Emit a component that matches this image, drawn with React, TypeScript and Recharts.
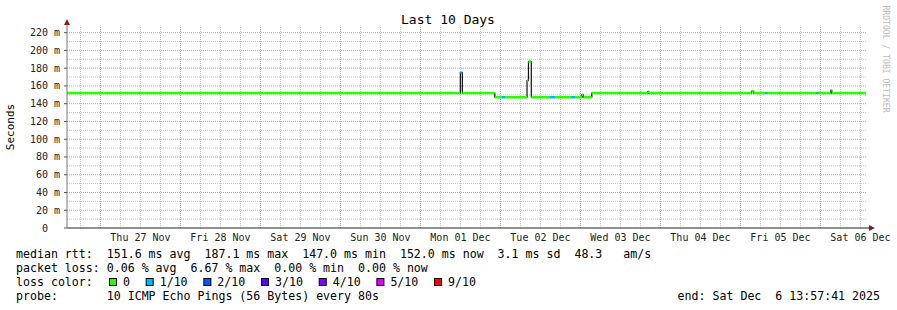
import { LineChart, Line, XAxis, YAxis, ReferenceLine } from "recharts";

// time axis = hours since Wed 26 Nov 00:00 (graph ends Sat Dec 6 13:57:41)
const startHour = 13.96;
const endHour = 253.66;

// median rtt as steps: segment i runs stepHours[i] -> stepHours[i+1]
const stepHours = [
  13.96, 131.96, 132.56, 142.3, 144.46, 145.36, 151.96, 152.4, 153.25, 158.86,
  160.36, 165.16, 166.36, 168.46, 168.9, 171.4, 188.2, 188.5, 219.3, 220.0,
  223.6, 224.0, 238.8, 239.3, 243.1, 243.4, 253.66,
];
const medianMs = [
  152, 175, 152, 147.3, 147.3, 147.3, 166, 187.5, 147.3, 147.3,
  147.3, 147.3, 147.3, 150, 147.3, 152, 153.5, 152, 154, 152,
  152, 152, 152, 152, 155, 152,
];
const lossTenths = [
  0, 1, 0, 0, 1, 0, 0, 0, 0, 1,
  0, 1, 0, 0, 0, 0, 0, 0, 0, 0,
  1, 0, 1, 0, 0, 0,
];

const lossLevels = [0, 1, 2, 3, 4, 5, 9];
const lossColors = ["#26ff00", "#00b8ff", "#0059ff", "#5e00ff", "#7e00ff", "#dd00ff", "#ff0000"];
const lossLabels = ["0", "1/10", "2/10", "3/10", "4/10", "5/10", "9/10"];

const dayNoons = [36, 60, 84, 108, 132, 156, 180, 204, 228, 252];
const dayLabels = [
  "Thu 27 Nov", "Fri 28 Nov", "Sat 29 Nov", "Sun 30 Nov", "Mon 01 Dec",
  "Tue 02 Dec", "Wed 03 Dec", "Thu 04 Dec", "Fri 05 Dec", "Sat 06 Dec",
];
const midnights = [24, 48, 72, 96, 120, 144, 168, 192, 216, 240];
const sixHours = [18, 30, 36, 42, 54, 60, 66, 78, 84, 90, 102, 108, 114, 126, 132, 138, 150, 156, 162, 174, 180, 186, 198, 204, 210, 222, 228, 234, 246, 252];
const yMajor = [0, 20, 40, 60, 80, 100, 120, 140, 160, 180, 200, 220];
const yMinor = [10, 30, 50, 70, 90, 110, 130, 150, 170, 190, 210];

const statRows = [
  "median rtt:  151.6 ms avg  187.1 ms max  147.0 ms min  152.0 ms now  3.1 ms sd  48.3   am/s",
  "packet loss: 0.06 % avg  6.67 % max  0.00 % min  0.00 % now",
];
const probeRow = "probe:       10 ICMP Echo Pings (56 Bytes) every 80s";
const endRow = "end: Sat Dec  6 13:57:41 2025";

const mono = "'DejaVu Sans Mono', monospace";

const stepData = stepHours.map((t, i) => ({ t, med: medianMs[Math.min(i, medianMs.length - 1)] }));

// one broken polyline per loss level: horizontal pieces only
const lossData = lossLevels.map((lvl) => {
  const key = "l" + lvl;
  const pts: Record<string, number | null>[] = [];
  medianMs.forEach((v, i) => {
    if (lossTenths[i] !== lvl) return;
    pts.push({ t: stepHours[i], [key]: v }, { t: stepHours[i + 1], [key]: v }, { t: stepHours[i + 1], [key]: null });
  });
  return pts;
});

function YTick({ x, y, payload }: any) {
  const label = payload.value === 0 ? "0  " : `${payload.value} m`;
  return (
    <text x={x} y={y} dy={3.5} textAnchor="end" fontFamily={mono} fontSize={10} fill="#222" style={{ whiteSpace: "pre" }}>
      {label}
    </text>
  );
}

export default function App() {
  let cx = 109;
  const legendItems = lossLabels.map((lab, i) => {
    const x = cx;
    cx += (lab.length + 4.24) * 7;
    return { x, lab, color: lossColors[i] };
  });

  return (
    <div style={{ position: "absolute", left: 0, top: 0, width: 897, height: 310, background: "#fff" }}>
      <LineChart width={897} height={310} data={stepData} margin={{ top: 26, right: 31, left: 0, bottom: 0 }}>
        {sixHours.map((h) => (
          <ReferenceLine key={"vm" + h} x={h} stroke="#c4c4c4" strokeDasharray="1 1" />
        ))}
        {yMinor.map((v) => (
          <ReferenceLine key={"hm" + v} y={v} stroke="#c4c4c4" strokeDasharray="1 1" />
        ))}
        {midnights.map((h) => (
          <ReferenceLine key={"vM" + h} x={h} stroke="#e89090" strokeDasharray="1 1" />
        ))}
        {yMajor.slice(1).map((v) => (
          <ReferenceLine key={"hM" + v} y={v} stroke="#e89090" strokeDasharray="1 1" />
        ))}
        <XAxis
          dataKey="t"
          type="number"
          domain={[startHour, endHour]}
          allowDataOverflow
          ticks={dayNoons}
          tickFormatter={(v: number) => dayLabels[dayNoons.indexOf(v)]}
          tickLine={false}
          tickSize={0}
          tickMargin={6}
          height={82}
          axisLine={{ stroke: "#222" }}
          tick={{ fontFamily: mono, fontSize: 10, fill: "#222" }}
          interval={0}
        />
        <YAxis
          type="number"
          domain={[0, 227.5]}
          allowDataOverflow
          ticks={yMajor}
          width={67}
          tickSize={3}
          tickMargin={4}
          tickLine={{ stroke: "#555" }}
          axisLine={{ stroke: "#777" }}
          tick={<YTick />}
          interval={0}
        />
        <Line dataKey="med" type="stepAfter" stroke="#111" strokeWidth={1.2} dot={false} isAnimationActive={false} />
        {lossLevels.map((lvl, i) => (
          <Line
            key={"loss" + lvl}
            data={lossData[i]}
            dataKey={"l" + lvl}
            type="linear"
            stroke={lossColors[i]}
            strokeWidth={2.5}
            dot={false}
            connectNulls={false}
            isAnimationActive={false}
          />
        ))}
      </LineChart>

      <svg width={897} height={310} style={{ position: "absolute", left: 0, top: 0, pointerEvents: "none" }}>
        <text x={448} y={24} textAnchor="middle" fontFamily={mono} fontSize={13} fill="#000">
          Last 10 Days
        </text>
        <text transform="translate(14,127) rotate(-90)" textAnchor="middle" fontFamily={mono} fontSize={11} fill="#000">
          Seconds
        </text>
        <text transform="translate(883,59) rotate(90)" textAnchor="middle" fontFamily={mono} fontSize={8.1} fill="#bbb">
          RRDTOOL / TOBI OETIKER
        </text>
        {/* axis extensions and arrows */}
        <line x1={67} y1={26} x2={67} y2={22} stroke="#777" />
        <polygon points="64,25 70,25 67,19" fill="#802020" />
        <line x1={866} y1={228} x2={870} y2={228} stroke="#222" />
        <polygon points="869,225 869,231 875,228" fill="#802020" />

        {statRows.map((row, i) => (
          <text key={i} x={16} y={258 + i * 14} fontFamily={mono} fontSize={11.6} fill="#000" style={{ whiteSpace: "pre" }}>
            {row}
          </text>
        ))}
        <text x={16} y={286} fontFamily={mono} fontSize={11.6} fill="#000" style={{ whiteSpace: "pre" }}>
          loss color:
        </text>
        {legendItems.map((it) => (
          <g key={it.lab}>
            <rect x={it.x + 0.5} y={278.5} width={7} height={7} fill={it.color} stroke="#000" />
            <text x={it.x + 14} y={286} fontFamily={mono} fontSize={11.6} fill="#000">
              {it.lab}
            </text>
          </g>
        ))}
        <text x={16} y={300} fontFamily={mono} fontSize={11.6} fill="#000" style={{ whiteSpace: "pre" }}>
          {probeRow}
        </text>
        <text x={880} y={300} textAnchor="end" fontFamily={mono} fontSize={11.6} fill="#000" style={{ whiteSpace: "pre" }}>
          {endRow}
        </text>
      </svg>
    </div>
  );
}
